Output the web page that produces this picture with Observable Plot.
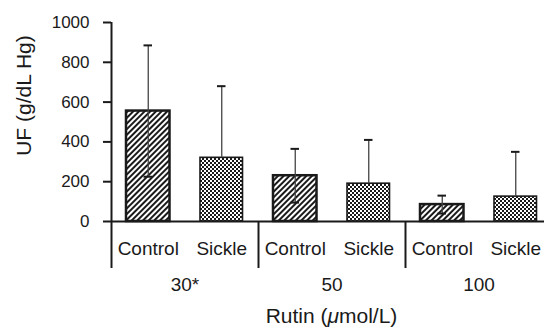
<!DOCTYPE html>
<html>
<head>
<meta charset="utf-8">
<script src="https://cdn.jsdelivr.net/npm/d3@7"></script>
<script src="https://cdn.jsdelivr.net/npm/@observablehq/plot@0.6"></script>
<style>
  html, body { margin: 0; padding: 0; background: white; }
  #chart { width: 544px; font-family: "Liberation Sans", Arial, Helvetica, sans-serif; color: #1a1a1a; }
  #xtitle { width: 441px; margin-left: 111px; text-align: center; font-size: 21px; height: 28px; line-height: 28px; padding-top: 2px; }
</style>
</head>
<body>
<div id="chart"></div>
<script>
// ---- data ----
const doses = ["30*", "50", "100"];
const groups = ["Control", "Sickle"];
const controlMean = [555, 230, 85];
const controlSD = [330, 135, 45];
const sickleMean = [320, 190, 125];
const sickleSD = [360, 220, 225];
const yTicks = [0, 200, 400, 600, 800, 1000];
const yLabel = "UF (g/dL Hg)";

// ---- table built from arrays ----
const rows = doses.flatMap((dose, i) => groups.map((group, j) => ({
  dose, group,
  key: dose + "|" + group,
  mean: (j === 0 ? controlMean : sickleMean)[i],
  sd: (j === 0 ? controlSD : sickleSD)[i]
})));
rows.forEach(r => { r.hi = r.mean + r.sd; r.lo = r.mean - r.sd; });

const xRange = [111, 552];
const bw = (xRange[1] - xRange[0]) / rows.length;
const ink = "#1a1a1a";

const svg = Plot.plot({
  width: 544, height: 300,
  marginLeft: 111, marginRight: 0, marginTop: 22, marginBottom: 32,
  style: { fontFamily: "'Liberation Sans', Arial, Helvetica, sans-serif", color: ink, background: "white", overflow: "visible" },
  x: { type: "band", domain: rows.map(r => r.key), range: xRange, padding: 0, round: false, axis: null },
  y: { domain: [0, 1000], range: [221, 22] },
  marks: [
    Plot.axisY({ ticks: yTicks, tickSize: 8, tickPadding: 14, fontSize: 17, strokeWidth: 2, label: null, tickFormat: d => String(d) }),
    Plot.barY(rows.filter(r => r.group === "Control"), { x: "key", y: "mean", fill: "url(#hatch)", stroke: ink, strokeWidth: 2.5, insetLeft: 15, insetRight: 15 }),
    Plot.barY(rows.filter(r => r.group === "Sickle"), { x: "key", y: "mean", fill: "url(#checker)", stroke: ink, strokeWidth: 1.6, insetLeft: 15.5, insetRight: 15.5 }),
    Plot.ruleX(rows, { x: "key", y1: r => (r.lo > 0 ? r.lo : r.mean), y2: "hi", stroke: "#444", strokeWidth: 1.3 }),
    Plot.tickY(rows, { x: "key", y: "hi", stroke: ink, strokeWidth: 2, insetLeft: 32.5, insetRight: 32.5 }),
    Plot.tickY(rows.filter(r => r.lo > 0), { x: "key", y: "lo", stroke: ink, strokeWidth: 2, insetLeft: 32.5, insetRight: 32.5 }),
    Plot.ruleY([0], { stroke: ink, strokeWidth: 1.8 }),
    // left axis line (spans down through the category labels)
    Plot.ruleX([rows[0]], { x: "key", dx: -bw / 2, stroke: ink, strokeWidth: 2 }),
    // group separators below the baseline
    Plot.ruleX(rows.filter((r, i) => r.group === "Control" && i > 0), { x: "key", dx: -bw / 2, insetTop: 199, stroke: ink, strokeWidth: 2 }),
    Plot.text(rows, { x: "key", y: 0, text: "group", dy: 27, fontSize: 19, fill: ink }),
    Plot.text(rows.filter(r => r.group === "Control"), { x: "key", y: 0, text: "dose", dx: bw / 2, dy: 63, fontSize: 19, fill: ink }),
    Plot.text([yLabel], { frameAnchor: "left", text: d => d, textAnchor: "middle", lineAnchor: "middle", rotate: -90, dx: -87, dy: -50, fontSize: 21, fill: ink })
  ]
});

// pattern definitions for the bar fills
const ns = "http://www.w3.org/2000/svg";
const defs = document.createElementNS(ns, "defs");
defs.innerHTML = `
  <pattern id="hatch" width="4" height="4" patternUnits="userSpaceOnUse" patternTransform="rotate(45)">
    <rect width="4" height="4" fill="white"/>
    <rect width="2" height="4" fill="${ink}"/>
  </pattern>
  <pattern id="checker" width="4" height="4" patternUnits="userSpaceOnUse">
    <rect width="4" height="4" fill="white"/>
    <rect x="0" y="0" width="2" height="2" fill="${ink}"/>
    <rect x="2" y="2" width="2" height="2" fill="${ink}"/>
  </pattern>`;
svg.insertBefore(defs, svg.firstChild);

const chart = document.getElementById("chart");
chart.appendChild(svg);
const xt = document.createElement("div");
xt.id = "xtitle";
xt.innerHTML = "Rutin (<i>μ</i>mol/L)";
chart.appendChild(xt);
</script>
</body>
</html>
